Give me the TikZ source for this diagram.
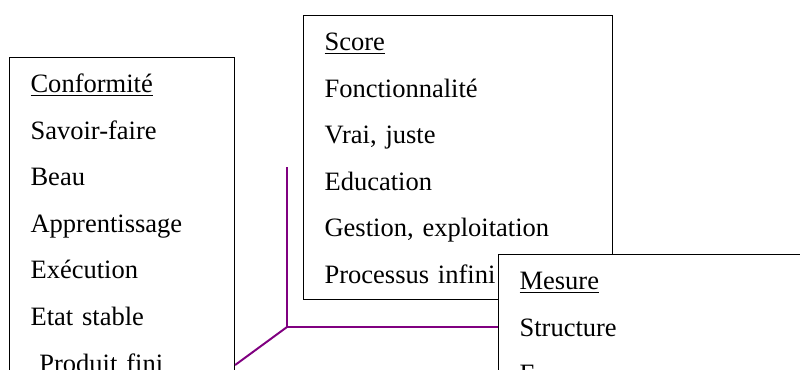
\documentclass[tikz,border=0pt]{standalone}
\usepackage{fontspec}
\setmainfont{Liberation Serif}
\definecolor{pourpre}{RGB}{128,0,128}
\begin{document}
\begin{tikzpicture}[line width=0.8pt,
  liste/.style={draw,fill=white,anchor=north west,align=left,inner xsep=0.525cm,inner ysep=0.375cm,text height=0.5cm,font=\fontsize{18.86}{33.14}\selectfont},
  lien/.style={draw=pourpre,line width=1.4pt}]
  \useasboundingbox (0,0) rectangle (20,-9.225);
  \clip (0,0) rectangle (20,-9.225);
  \node[liste,text width=6.675cm,text depth=5.85cm] (score) at (7.575,-0.375){\underline{Score}\\Fonctionnalité\\Vrai, juste\\Education\\Gestion, exploitation\\Processus infini};
  \node[liste,text width=4.575cm] (conf) at (0.225,-1.425){\underline{Conformité}\\Savoir-faire\\Beau\\Apprentissage\\Exécution\\Etat stable\\~Produit fini};
  \node[liste,text width=7cm] (mesure) at (12.45,-6.35){\underline{Mesure}\\Structure\\E};
  % jonction des trois branches
  \coordinate (noeud) at (7.175,-8.175);
  \coordinate (haut) at (7.175,-4.175);
  \draw[lien] (haut) -- (noeud) -- (noeud -| mesure.west);
  \draw[lien] (noeud) -- ([yshift=-7.7cm]conf.north east);
\end{tikzpicture}
\end{document}
